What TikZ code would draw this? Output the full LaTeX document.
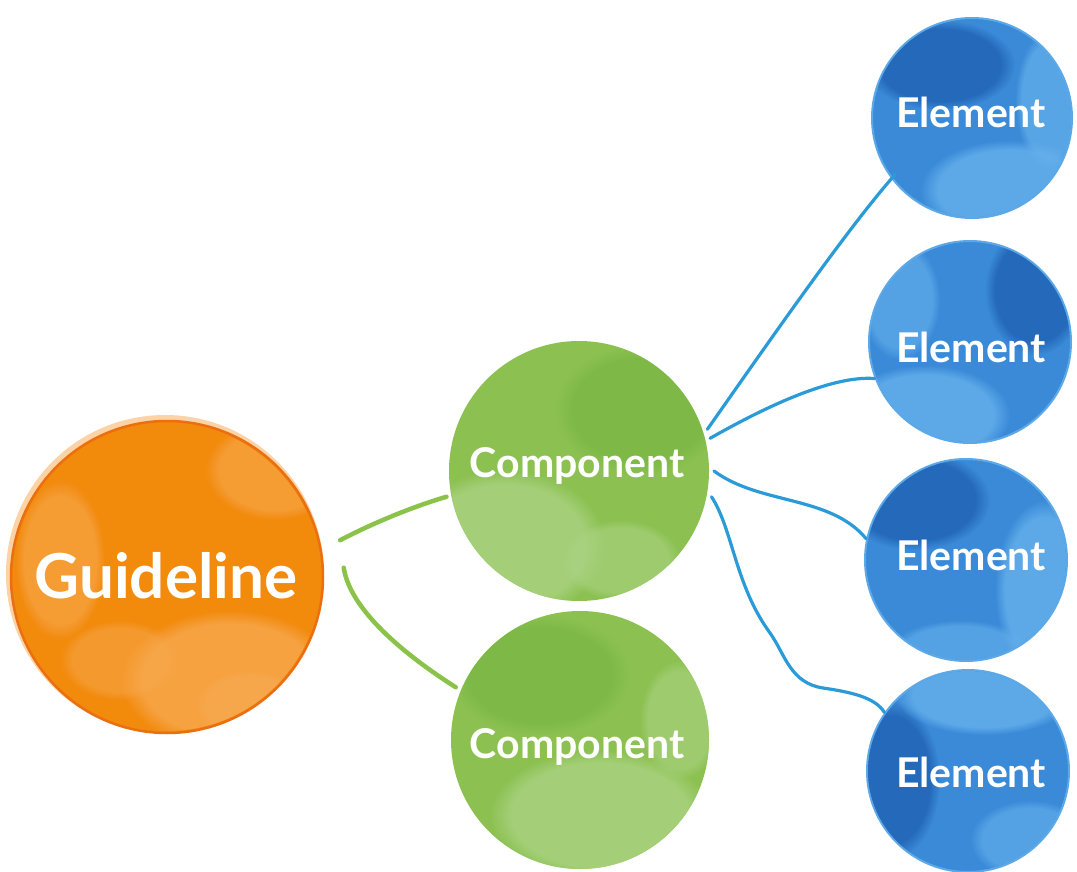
\documentclass[tikz,border=0pt]{standalone}
\usepackage{fontspec}
\setmainfont{Lato}
\usetikzlibrary{fadings}
\definecolor{orbase}{HTML}{F28A0C}
\definecolor{orrim}{HTML}{EB6F10}
\definecolor{orlight}{HTML}{F7A84E}
\definecolor{grbase}{HTML}{8CC152}
\definecolor{grlight}{HTML}{AAD382}
\definecolor{grdark}{HTML}{79B743}
\definecolor{blbase}{HTML}{3A8AD8}
\definecolor{bldark}{HTML}{1D5CAE}
\definecolor{bllight}{HTML}{66B1EC}
\definecolor{bline}{HTML}{2B9BD8}
\definecolor{gline}{HTML}{8BC34A}
\tikzset{
  orb/.style={circle, inner sep=0pt, fill=orbase, draw=orrim, line width=2.5pt},
  grb/.style={circle, inner sep=0pt, fill=grbase},
  blb/.style={circle, inner sep=0pt, fill=blbase, draw=bllight!80!blbase, line width=2pt},
  soft/.style={path fading=circle with fuzzy edge 20 percent},
  lbl/.style={inner sep=0pt, anchor=base, text=white, font=\bfseries},
  bigl/.style={lbl, font=\bfseries\fontsize{62}{62}\selectfont},
  midl/.style={lbl, font=\bfseries\fontsize{41}{41}\selectfont},
  gconn/.style={draw=gline, line width=4.5pt, line cap=round},
  bconn/.style={draw=bline, line width=3.2pt, line cap=round},
}
\begin{document}
\begin{tikzpicture}[x=1pt, y=-1pt]
\useasboundingbox (0,0) rectangle (1077,872);

% Guideline
\fill[orlight, opacity=.5] (165,574) circle (159);
\node[orb, minimum size=312pt, outer sep=21pt] (g) at (167,577) {};
\begin{scope}
  \clip (167,577) circle (154);
  \fill[orlight, soft, opacity=.8] (230,680) ellipse (110 and 70);
  \fill[orlight, soft, opacity=.6] (275,470) ellipse (70 and 50);
  \fill[orlight, soft, opacity=.6] (60,560) ellipse (45 and 80);
  \fill[orlight, soft, opacity=.9] (250,705) ellipse (55 and 35);
  \fill[orlight, soft, opacity=.5] (120,660) ellipse (60 and 40);
\end{scope}

% Components
\node[grb, minimum size=260pt, outer sep=5pt] (c1) at (579,471) {};
\begin{scope}
  \clip (579,471) circle (130);
  \fill[grlight, soft, opacity=.8] (505,545) ellipse (100 and 75);
  \fill[grdark, soft, opacity=.7] (640,410) ellipse (85 and 65);
  \fill[grlight, soft, opacity=.6] (620,560) ellipse (60 and 40);
\end{scope}
\node[grb, minimum size=258pt, outer sep=6pt] (c2) at (580,740) {};
\begin{scope}
  \clip (580,740) circle (129);
  \fill[grdark, soft, opacity=.7] (540,675) ellipse (90 and 60);
  \fill[grlight, soft, opacity=.8] (600,815) ellipse (110 and 65);
  \fill[grlight, soft, opacity=.6] (680,720) ellipse (40 and 60);
\end{scope}

% Elements
\node[blb, minimum size=200pt] (e1) at (972,118) {};
\node[blb, minimum size=202pt] (e2) at (970,342) {};
\node[blb, minimum size=202pt] (e3) at (966,560) {};
\node[blb, minimum size=202pt] (e4) at (968,771) {};
\begin{scope}
  \clip (972,118) circle (99);
  \fill[bldark, soft, opacity=.7] (940,65) ellipse (75 and 45);
  \fill[bllight, soft, opacity=.8] (1010,190) ellipse (90 and 50);
  \fill[bllight, soft, opacity=.7] (1050,100) ellipse (35 and 70);
\end{scope}
\begin{scope}
  \clip (970,342) circle (100);
  \fill[bldark, soft, opacity=.7] (1035,290) ellipse (50 and 65);
  \fill[bllight, soft, opacity=.8] (925,415) ellipse (85 and 50);
  \fill[bllight, soft, opacity=.6] (900,300) ellipse (40 and 60);
\end{scope}
\begin{scope}
  \clip (966,560) circle (100);
  \fill[bldark, soft, opacity=.7] (915,500) ellipse (75 and 50);
  \fill[bllight, soft, opacity=.8] (1045,590) ellipse (50 and 90);
  \fill[bllight, soft, opacity=.6] (960,650) ellipse (70 and 30);
\end{scope}
\begin{scope}
  \clip (968,771) circle (100);
  \fill[bldark, soft, opacity=.7] (890,780) ellipse (50 and 80);
  \fill[bllight, soft, opacity=.8] (985,695) ellipse (90 and 40);
  \fill[bllight, soft, opacity=.6] (1030,840) ellipse (60 and 40);
\end{scope}

% Connectors
\draw[gconn] (g.12.9) .. controls (375,522) and (415,506) .. (c1.191.6);
\draw[gconn] (g.3) .. controls (350,610) and (405,655) .. (c2.157.4);
\draw[bconn, shorten >=-6pt] (c1.18) .. controls (770,340) and (850,225) .. (e1.217);
\draw[bconn] (c1.14) .. controls (760,410) and (830,375) .. (e2.201.8);
\draw[bconn] (c1.-0.9) .. controls (760,505) and (830,495) .. (e3.168.9);
\draw[bconn] (c1.-11.4) .. controls (733,530) and (735,585) .. (770,633)
  .. controls (785,654) and (790,683) .. (823,688)
  .. controls (850,692) and (875,697) .. (e4.145.3);

% Labels
\node[bigl] (gl) at (166,598) {Guideline};
\node[midl] (c1l) at (577,477) {Component};
\node[midl] (c2l) at (577,758) {Component};
\node[midl] (e1l) at (971,128) {Element};
\node[midl] (e2l) at (971,362) {Element};
\node[midl] (e3l) at (971,570) {Element};
\node[midl] (e4l) at (971,787) {Element};
\end{tikzpicture}
\end{document}
